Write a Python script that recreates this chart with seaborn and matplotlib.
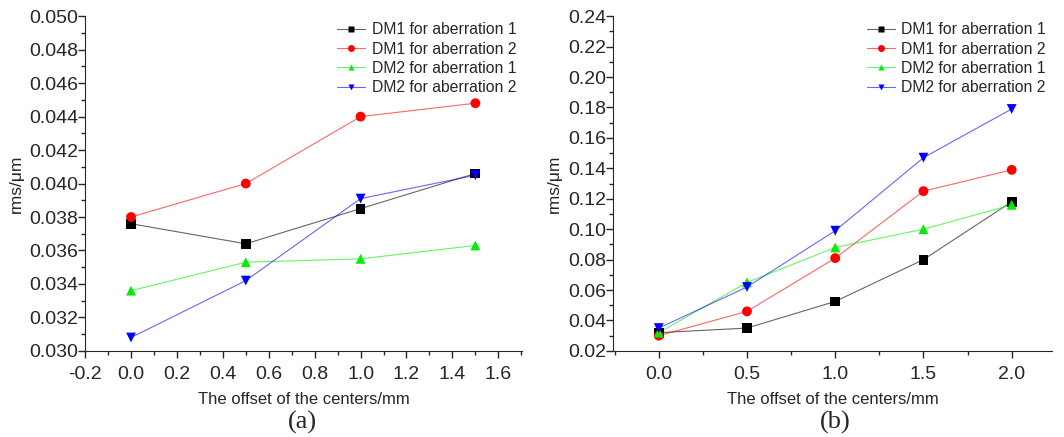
import matplotlib
matplotlib.use("Agg")
import matplotlib.pyplot as plt
from matplotlib.lines import Line2D
from matplotlib.ticker import MultipleLocator, FormatStrFormatter
import seaborn as sns
import pandas as pd

sns.set_style("ticks")
plt.rcParams['font.family'] = ['Liberation Sans', 'DejaVu Sans']

series = ["DM1 for aberration 1", "DM1 for aberration 2",
          "DM2 for aberration 1", "DM2 for aberration 2"]
colors = ["#000000", "#ff0000", "#00ee00", "#0000ff"]
markers = ["s", "o", "^", "v"]

# (a)
offset_a = [0.0, 0.5, 1.0, 1.5]
dm1_ab1_a = [0.0376, 0.0364, 0.0385, 0.0406]
dm1_ab2_a = [0.0380, 0.0400, 0.0440, 0.0448]
dm2_ab1_a = [0.0336, 0.0353, 0.0355, 0.0363]
dm2_ab2_a = [0.0308, 0.0342, 0.0391, 0.0405]

# (b)
offset_b = [0.0, 0.5, 1.0, 1.5, 2.0]
dm1_ab1_b = [0.032, 0.035, 0.0525, 0.080, 0.118]
dm1_ab2_b = [0.030, 0.046, 0.081, 0.125, 0.139]
dm2_ab1_b = [0.032, 0.065, 0.088, 0.100, 0.116]
dm2_ab2_b = [0.035, 0.062, 0.099, 0.147, 0.179]


def make_df(x, ys):
    rows = []
    for name, y in zip(series, ys):
        for xi, yi in zip(x, y):
            rows.append({"offset": xi, "rms": yi, "series": name})
    return pd.DataFrame(rows)


df_a = make_df(offset_a, [dm1_ab1_a, dm1_ab2_a, dm2_ab1_a, dm2_ab2_a])
df_b = make_df(offset_b, [dm1_ab1_b, dm1_ab2_b, dm2_ab1_b, dm2_ab2_b])

fig = plt.figure(figsize=(10.64, 4.37), dpi=100)
ax1 = fig.add_axes([0.080, 0.197, 0.411, 0.766])
ax2 = fig.add_axes([0.576, 0.197, 0.413, 0.766])

pal = dict(zip(series, colors))
mk = dict(zip(series, markers))


def draw(ax, df):
    # thin pale lines, then solid markers on top
    sns.lineplot(data=df, x="offset", y="rms", hue="series", palette=pal,
                 linewidth=0.8, alpha=0.6, legend=False, ax=ax)
    sns.scatterplot(data=df, x="offset", y="rms", hue="series", palette=pal,
                    style="series", markers=mk, s=50, edgecolor="none",
                    legend=False, ax=ax, zorder=3)
    handles = []
    for c, m in zip(colors, markers):
        h = Line2D([], [], color=matplotlib.colors.to_rgba(c, 0.6), lw=0.8,
                   marker=m, markersize=5, markeredgecolor="none",
                   markerfacecolor=c)
        handles.append(h)
    ax.legend(handles, series, loc="upper right", frameon=False, fontsize=11.3,
              handlelength=1.8, handletextpad=0.4, labelspacing=0.27,
              borderaxespad=0.0, bbox_to_anchor=(1.0, 1.0))
    for s in ["top", "right"]:
        ax.spines[s].set_visible(False)
    ax.tick_params(which="both", direction="out", labelsize=14, width=1)
    ax.tick_params(which="major", length=5)
    ax.tick_params(which="minor", length=3)
    ax.tick_params(axis="y", pad=0)
    ax.tick_params(axis="x", pad=6)
    ax.set_xlabel("The offset of the centers/mm", fontsize=12, labelpad=6)
    ax.set_ylabel("rms/\u03bcm", fontsize=12.5, labelpad=4)


draw(ax1, df_a)
ax1.set_xlim(-0.2, 1.705)
ax1.set_ylim(0.030, 0.050)
ax1.xaxis.set_major_locator(MultipleLocator(0.2))
ax1.xaxis.set_minor_locator(MultipleLocator(0.1))
ax1.yaxis.set_major_locator(MultipleLocator(0.002))
ax1.yaxis.set_minor_locator(MultipleLocator(0.001))
ax1.yaxis.set_major_formatter(FormatStrFormatter("%.3f"))
ax1.xaxis.set_major_formatter(FormatStrFormatter("%.1f"))

draw(ax2, df_b)
ax2.set_xlim(-0.26, 2.23)
ax2.set_ylim(0.02, 0.24)
ax2.xaxis.set_major_locator(MultipleLocator(0.5))
ax2.xaxis.set_minor_locator(MultipleLocator(0.25))
ax2.yaxis.set_major_locator(MultipleLocator(0.02))
ax2.yaxis.set_minor_locator(MultipleLocator(0.01))
ax2.yaxis.set_major_formatter(FormatStrFormatter("%.2f"))
ax2.xaxis.set_major_formatter(FormatStrFormatter("%.1f"))

fig.text(0.284, 0.019, "(a)", family="Liberation Serif", fontsize=19, ha="center")
fig.text(0.785, 0.019, "(b)", family="Liberation Serif", fontsize=19, ha="center")

fig.savefig("out.png", dpi=100)
